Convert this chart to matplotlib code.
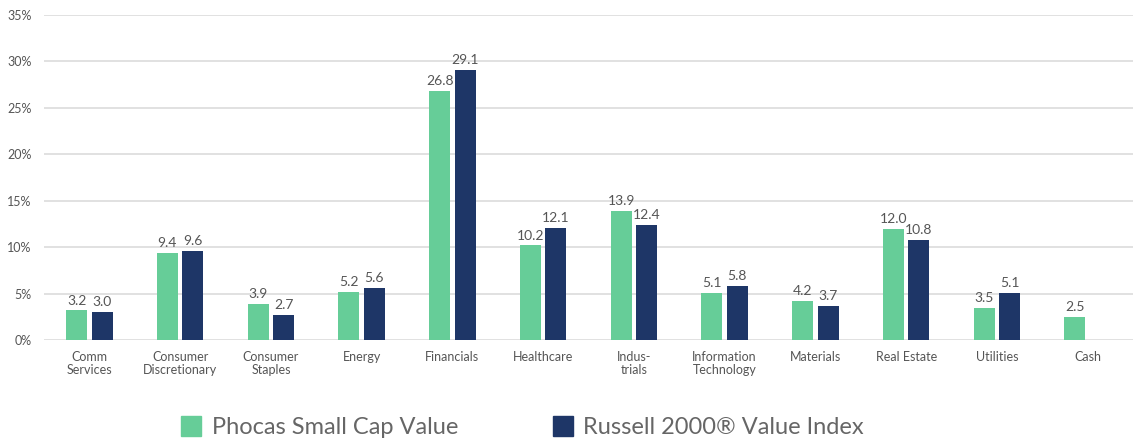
import numpy as np
import matplotlib.pyplot as plt
from matplotlib.patches import Patch

categories = ["Comm\nServices", "Consumer\nDiscretionary", "Consumer\nStaples", "Energy",
              "Financials", "Healthcare", "Indus-\ntrials", "Information\nTechnology",
              "Materials", "Real Estate", "Utilities", "Cash"]
phocas = [3.2, 9.4, 3.9, 5.2, 26.8, 10.2, 13.9, 5.1, 4.2, 12.0, 3.5, 2.5]
russell = [3.0, 9.6, 2.7, 5.6, 29.1, 12.1, 12.4, 5.8, 3.7, 10.8, 5.1, np.nan]
series_names = ["Phocas Small Cap Value", "Russell 2000\u00ae Value Index"]

green = "#66CD98"
navy = "#1E3667"
txt = "#555555"

plt.rcParams['font.family'] = ['Lato', 'DejaVu Sans']

fig = plt.figure(figsize=(11.33, 4.4), dpi=100)
ax = fig.add_axes([44 / 1133, 100 / 440, 1089 / 1133, 325 / 440])

x = np.arange(len(categories))
w = 0.23
off = 0.14
b1 = ax.bar(x - off, phocas, w, color=green, zorder=3)
b2 = ax.bar(x + off, russell, w, color=navy, zorder=3)

for bars, vals in ((b1, phocas), (b2, russell)):
    for rect, v in zip(bars, vals):
        if np.isnan(v):
            continue
        ax.text(rect.get_x() + rect.get_width() / 2, v + 0.4, f"{v:.1f}",
                ha="center", va="bottom", fontsize=10, color=txt)

ax.set_xlim(-0.5, len(categories) - 0.5)
ax.set_ylim(0, 35)
ax.set_yticks(range(0, 36, 5))
ax.set_yticklabels([f"{t}%" for t in range(0, 36, 5)])
ax.set_xticks(x)
ax.set_xticklabels(categories, linespacing=1.1)
ax.tick_params(axis="both", length=0, labelsize=9, colors=txt)
ax.tick_params(axis="x", pad=8)
ax.tick_params(axis="y", pad=9)
ax.yaxis.grid(True, color="#dcdcdc", linewidth=1.2, zorder=0)
for s in ax.spines.values():
    s.set_visible(False)

handles = [Patch(color=green), Patch(color=navy)]
fig.legend(handles, series_names, loc="center left", bbox_to_anchor=(160 / 1133, 13 / 440),
           ncol=2, frameon=False, fontsize=17, handlelength=0.85, handleheight=0.95,
           handletextpad=0.45, columnspacing=4.0, labelcolor="#666666")

fig.savefig("out.png", dpi=100)
